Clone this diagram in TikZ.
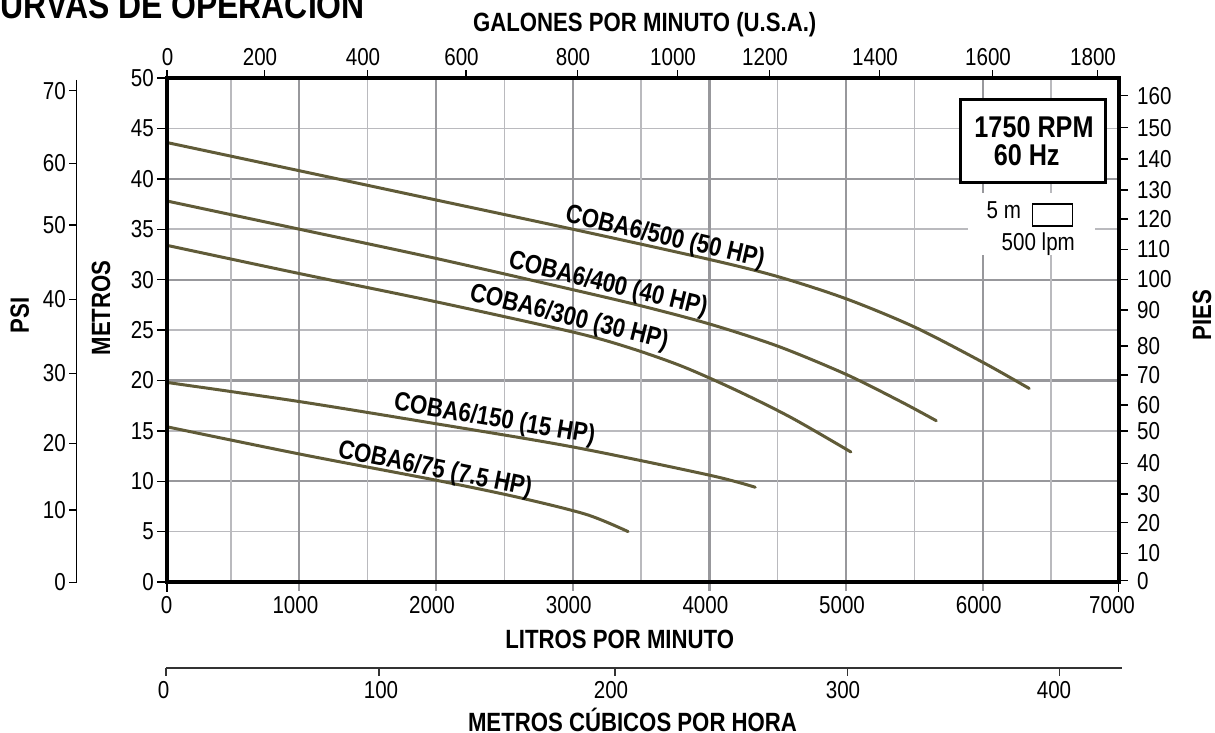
\documentclass[tikz,border=0pt]{standalone}
\usepackage{fontspec}
\setmainfont{Liberation Sans}[FakeStretch=0.84]
\definecolor{gmaj}{RGB}{152,152,156}
\definecolor{gmin}{RGB}{186,186,190}
\definecolor{curvec}{RGB}{96,91,56}
\begin{document}
\begin{tikzpicture}[x=1pt,y=1pt,
  tickmark/.style={draw=black,line width=1.4pt},
  num/.style={font=\fontsize{24.5}{25}\selectfont,inner sep=0pt},
  btxt/.style={font=\bfseries\fontsize{26.4}{27}\selectfont,inner sep=0pt},
  clbl/.style={font=\bfseries\fontsize{26.4}{27}\selectfont,inner sep=0pt},
  pump/.style={draw=curvec,line width=3pt,line cap=round},
  majgrid/.style={draw=gmaj,line width=2.2pt},
  mingrid/.style={draw=gmin,line width=1.5pt}]
\useasboundingbox (0,0) rectangle (1215,-733);
\clip (0,0) rectangle (1215,-733);
\fill[white] (0,0) rectangle (1215,-733);

% title (cut at the left and top edges)
\node[anchor=base east,font=\bfseries\fontsize{38}{40}\selectfont,inner sep=0pt] (title) at (365,-18.3) {CURVAS DE OPERACION};

% grid
\foreach \m in {5,15,25,35,45} \draw[mingrid] (167,{-582+10.08*\m}) -- (1118.5,{-582+10.08*\m});
\foreach \m in {10,20,30,40} \draw[majgrid] (167,{-582+10.08*\m}) -- (1118.5,{-582+10.08*\m});
\foreach \L in {500,1500,...,6500} \draw[mingrid] ({162.7+0.13667*\L},-78) -- ({162.7+0.13667*\L},-582);
\foreach \L in {1000,2000,...,6000} \draw[majgrid] ({162.7+0.13667*\L},-78) -- ({162.7+0.13667*\L},-591);

% legend area
\fill[white] (968,-193) rectangle (1095,-255);
\node[num,anchor=base] (fivem) at (1003.8,-218.3) {5 m};
\node[draw,line width=1.3pt,minimum width=40.4pt,minimum height=22pt,inner sep=0pt] (scalebox) at (1052.5,-215) {};
\node[num,anchor=base] (lpm) at (1038.3,-250) {500 lpm};

% rpm box
\node[draw,line width=3pt,fill=white,minimum width=144.3pt,minimum height=82.3pt,inner sep=0pt] (rpmbox) at (1032.85,-141.15) {};
\node[font=\bfseries\fontsize{30}{31}\selectfont,inner sep=0pt] (rpm) at (1034,-126.7) {1750 RPM};
\node[font=\bfseries\fontsize{30}{31}\selectfont,inner sep=0pt] (hz) at (1026.7,-155) {60 Hz};

% pump curves
\begin{scope}[shift={(162.7pt,-582pt)},x=0.13667pt,y=10.08pt]
\draw[pump] plot[smooth] coordinates {(30,43.6) (1000,40.8) (2000,37.9) (3000,35.0) (4000,32.0) (4500,30.3) (5000,28.1) (5500,25.3) (6000,21.8) (6340,19.2)};
\draw[pump] plot[smooth] coordinates {(30,37.8) (1000,35.0) (2000,32.1) (3000,29.0) (3500,27.4) (4000,25.6) (4500,23.4) (5000,20.6) (5400,17.9) (5660,16.0)};
\draw[pump] plot[smooth] coordinates {(30,33.4) (1000,30.6) (2000,27.8) (3000,24.8) (3400,23.3) (3800,21.4) (4200,19.0) (4600,16.3) (5035,12.9)};
\draw[pump] plot[smooth] coordinates {(30,19.8) (1000,17.9) (2000,15.7) (3000,13.4) (4000,10.6) (4335,9.4)};
\draw[pump] plot[smooth] coordinates {(30,15.4) (1000,12.7) (2000,10.1) (2600,8.4) (3100,6.7) (3405,5.0)};
\end{scope}

% curve labels
\node[clbl,rotate=-13] (l500) at (665,-238) {COBA6/500 (50 HP)};
\node[clbl,rotate=-13.5] (l400) at (608,-285) {COBA6/400 (40 HP)};
\node[clbl,rotate=-14] (l300) at (569,-318) {COBA6/300 (30 HP)};
\node[clbl,rotate=-9.5] (l150) at (494.5,-420) {COBA6/150 (15 HP)};
\node[clbl,rotate=-11.5] (l75) at (435,-470) {COBA6/75 (7.5 HP)};

% frame
\draw[line width=4pt] (167,-78) rectangle (1118.5,-582);
\draw[tickmark] (167,-582) -- (167,-592);
\draw[tickmark] (1118.5,-582) -- (1118.5,-592);

% metros axis
\foreach \m in {0,5,...,50} {
  \draw[tickmark] (157,{-582+10.08*\m}) -- (167,{-582+10.08*\m});
  \node[num,anchor=east] (mt\m) at (154,{-582+10.08*\m}) {\m};
}
\node[btxt,rotate=90] (metT) at (101,-308) {METROS};

% psi axis
\draw[line width=1.4pt] (76.7,-80) -- (76.7,-582.3);
\foreach \p/\yy in {0/582.3,10/510,20/443.3,30/373.3,40/299.3,50/225,60/163.3,70/90.7} {
  \draw[tickmark] (69,-\yy) -- (76.7,-\yy);
  \node[num,anchor=east] (psi\p) at (66,-\yy) {\p};
}
\node[btxt,rotate=90] (psiT) at (19.7,-315.5) {PSI};

% pies axis
\foreach \f/\yy in {0/580.7,10/553.3,20/522.7,30/494,40/463.3,50/431,60/405,70/375,80/346,90/310,100/279.3,110/249.3,120/219,130/190,140/159,150/127.7,160/95.7} {
  \draw[tickmark] (1118.5,-\yy) -- (1128,-\yy);
  \node[num,anchor=west] (ft\f) at (1137,-\yy) {\f};
}
\node[btxt,rotate=90] (piesT) at (1202,-315) {PIES};

% gallons axis (top)
\foreach \g/\tx/\lx in {0/167/167.5,200/264.3/260,400/367.7/363,600/466/461.5,800/577.3/573,1000/677.7/673,1200/769.3/765,1400/879.3/875,1600/992.7/988,1800/1097.7/1093} {
  \draw[tickmark] (\tx,-78) -- (\tx,-70.5);
  \node[num] (gp\g) at (\lx,-57.5) {\g};
}
\node[btxt,anchor=base] (galT) at (644.7,-31.7) {GALONES POR MINUTO (U.S.A.)};

% litres axis (bottom)
\foreach \l/\lx in {0/166.7,1000/295.4,2000/432,3000/568.7,4000/705.4,5000/842,6000/978.7,7000/1112} {
  \node[num] (lp\l) at (\lx,-605) {\l};
}
\node[btxt,anchor=base] (litT) at (619.7,-648.3) {LITROS POR MINUTO};

% cubic metres per hour axis
\draw[line width=1.5pt,draw=black!80] (166,-668) -- (1122,-668);
\foreach \c/\tx/\lx in {0/166/163.7,100/379/381,200/615/611,300/847.3/843,400/1059.3/1054} {
  \draw[line width=1.4pt,draw=black!80] (\tx,-668) -- (\tx,-676);
  \node[num] (mc\c) at (\lx,-690) {\c};
}
\node[btxt,anchor=base] (m3T) at (632.5,-731) {METROS CÚBICOS POR HORA};
\end{tikzpicture}
\end{document}
